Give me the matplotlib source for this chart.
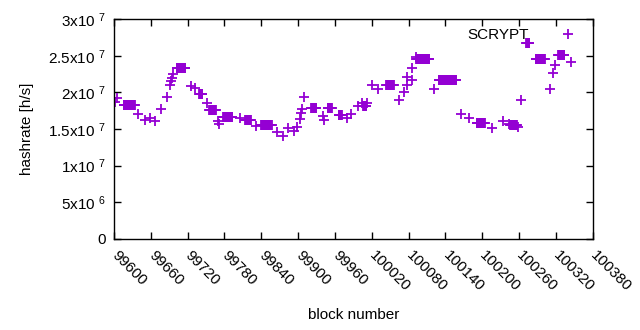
import numpy as np
import matplotlib
matplotlib.use("Agg")
import matplotlib.pyplot as plt

plt.rcParams['font.family'] = ['Liberation Sans', 'DejaVu Sans']
plt.rcParams['mathtext.default'] = 'regular'

# runs of blocks that share the same hashrate (start block, end block, h/s)
run_start = [99616, 99702, 99739, 99755, 99778, 99814, 99840, 99921, 99948, 99966,
             100006, 100044, 100093, 100129, 100191, 100246, 100272, 100287, 100324]
run_end = [99634, 99716, 99744, 99766, 99793, 99823, 99857, 99930, 99955, 99971,
           100011, 100056, 100114, 100158, 100204, 100256, 100277, 100302, 100334]
run_rate = [1.83e7, 2.33e7, 1.98e7, 1.76e7, 1.66e7, 1.62e7, 1.55e7, 1.79e7, 1.79e7, 1.69e7,
            1.82e7, 2.10e7, 2.45e7, 2.17e7, 1.58e7, 1.55e7, 2.67e7, 2.46e7, 2.51e7]

# single blocks
block = [99602, 99605, 99640, 99651, 99658, 99667, 99677, 99686, 99692, 99693,
         99695, 99697, 99725, 99732, 99751, 99770, 99772, 99805, 99831, 99866,
         99875, 99884, 99893, 99899, 99903, 99905, 99906, 99910, 99940, 99942,
         99979, 99986, 99998, 100004, 100012, 100021, 100030, 100064, 100072, 100077,
         100078, 100085, 100086, 100092, 100121, 100166, 100179, 100216, 100234, 100244,
         100258, 100263, 100310, 100315, 100319, 100345]
rate = [1.87e7, 1.92e7, 1.70e7, 1.62e7, 1.65e7, 1.61e7, 1.77e7, 1.94e7, 2.10e7, 2.15e7,
        2.20e7, 2.25e7, 2.09e7, 2.06e7, 1.85e7, 1.61e7, 1.57e7, 1.65e7, 1.54e7, 1.46e7,
        1.40e7, 1.51e7, 1.47e7, 1.53e7, 1.64e7, 1.72e7, 1.77e7, 1.94e7, 1.68e7, 1.63e7,
        1.65e7, 1.70e7, 1.81e7, 1.85e7, 1.86e7, 2.10e7, 2.04e7, 1.90e7, 2.00e7, 2.21e7,
        2.10e7, 2.33e7, 2.17e7, 2.49e7, 2.05e7, 1.70e7, 1.65e7, 1.52e7, 1.61e7, 1.57e7,
        1.53e7, 1.90e7, 2.05e7, 2.26e7, 2.37e7, 2.41e7]

xs = list(block)
ys = list(rate)
for s, e, r in zip(run_start, run_end, run_rate):
    for b in range(s, e + 1):
        xs.append(b)
        ys.append(r)

fig = plt.figure(figsize=(6.4, 3.3), dpi=100)
ax = fig.add_axes([0.178, 0.276, 0.748, 0.666])

ax.plot(xs, ys, linestyle='none', marker='+', color='#9400D3',
        markersize=7.5, markeredgewidth=1.3, label='SCRYPT')

ax.set_xlim(99600, 100380)
ax.set_ylim(0, 3e7)
ax.set_xticks(np.arange(99600, 100381, 60))
ax.set_xticklabels([str(t) for t in range(99600, 100381, 60)], rotation=-45,
                   ha='left', va='center', rotation_mode='anchor')
yt = [0, 5e6, 1e7, 1.5e7, 2e7, 2.5e7, 3e7]
ylab = ['0', '5x10 $^{6}$', '1x10 $^{7}$', '1.5x10 $^{7}$', '2x10 $^{7}$',
        '2.5x10 $^{7}$', '3x10 $^{7}$']
ax.set_yticks(yt)
ax.set_yticklabels(ylab)
ax.tick_params(direction='in', top=True, right=True, length=5, width=1,
               labelsize=11, colors='black')
ax.tick_params(axis='y', pad=6)
ax.tick_params(axis='x', pad=10)
for sp in ax.spines.values():
    sp.set_linewidth(1)

ax.set_xlabel('block number', fontsize=11, labelpad=10)
ax.set_ylabel('hashrate [h/s]', fontsize=11, labelpad=10)

ax.legend(loc='upper right', frameon=False, markerfirst=False, fontsize=11,
          handlelength=1.5, borderaxespad=0.2, handletextpad=1.8,
          bbox_to_anchor=(0.992, 1.0))

fig.savefig('out.png', dpi=100)
